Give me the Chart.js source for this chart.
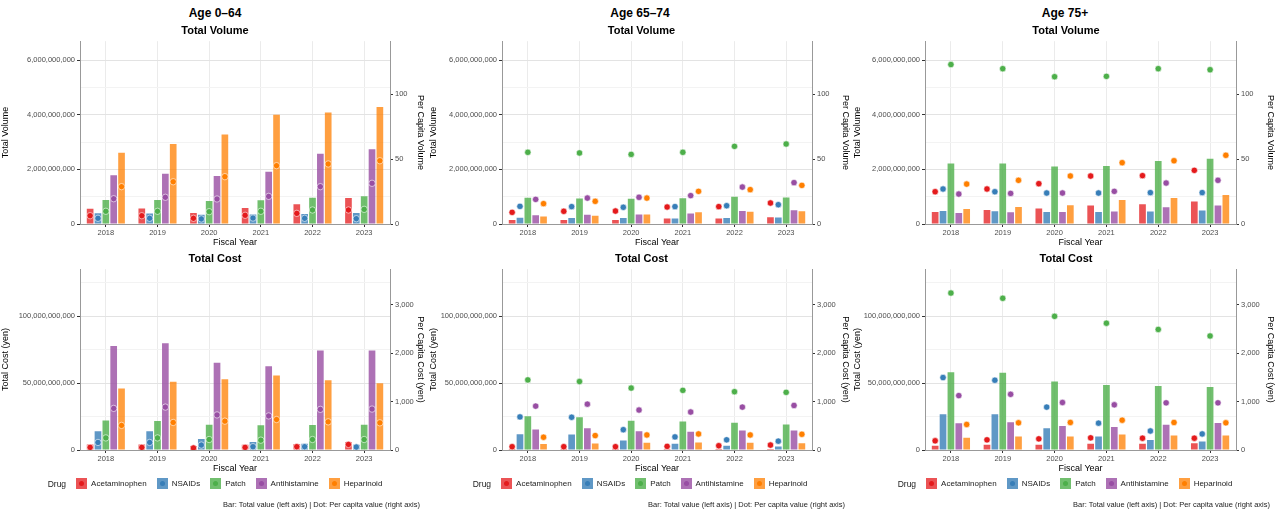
<!DOCTYPE html>
<html><head><meta charset="utf-8">
<script src="https://cdn.jsdelivr.net/npm/chart.js@4.4.1/dist/chart.umd.min.js"></script>
<style>
body{margin:0;width:1280px;height:517px;background:#fff;font-family:"Liberation Sans",Arial,sans-serif;position:relative;overflow:hidden}
.c{position:absolute}
.age{position:absolute;top:6px;font-weight:bold;font-size:12px;width:430px;text-align:center}
.leg{position:absolute;top:478px;font-size:8px;color:#222;display:flex;align-items:center;width:430px;justify-content:center}
.leg span.k{display:inline-block;width:11px;height:11px;margin:0 4px 0 10px;position:relative}
.leg span.k i{position:absolute;left:3px;top:3px;width:5px;height:5px;border-radius:50%}
.cap{position:absolute;top:500px;font-size:7.5px;color:#222;width:420px;text-align:right}
</style></head><body>
<div id="root"></div>
<script>
const years=["2018","2019","2020","2021","2022","2023"];
const drugs=["Acetaminophen","NSAIDs","Patch","Antihistamine","Heparinoid"];
const ages=["Age 0\u201364","Age 65\u201374","Age 75+"];
const volTot064=[[0.56e9,0.57e9,0.40e9,0.59e9,0.72e9,0.95e9],[0.39e9,0.38e9,0.34e9,0.35e9,0.37e9,0.40e9],[0.88e9,0.88e9,0.84e9,0.87e9,0.96e9,1.02e9],[1.78e9,1.84e9,1.76e9,1.91e9,2.57e9,2.74e9],[2.61e9,2.93e9,3.28e9,4.0e9,4.08e9,4.28e9]];
const volPc064=[[6.4,6.4,4.4,6.7,8.2,10.8],[4.4,4.4,3.9,4.6,4.4,4.1],[9.8,9.8,9.5,9.8,10.8,11.3],[19.5,20.6,19.3,21.3,28.8,31.4],[28.8,32.6,36.5,45,46.3,48.8]];
const volTot6574=[[0.15e9,0.15e9,0.15e9,0.20e9,0.20e9,0.25e9],[0.23e9,0.22e9,0.22e9,0.20e9,0.22e9,0.24e9],[0.96e9,0.93e9,0.92e9,0.94e9,1.00e9,0.97e9],[0.32e9,0.34e9,0.35e9,0.38e9,0.48e9,0.50e9],[0.27e9,0.30e9,0.35e9,0.43e9,0.45e9,0.47e9]];
const volPc6574=[[9.0,9.8,10,13.1,13.4,16.2],[13.6,13.4,12.9,13.4,14.1,14.9],[55.3,54.8,53.7,55.3,59.9,61.7],[19,20,20.6,21.9,28.5,31.9],[15.7,17.5,20,25.2,26.5,29.8]];
const volTot75=[[0.44e9,0.51e9,0.57e9,0.68e9,0.72e9,0.82e9],[0.48e9,0.47e9,0.44e9,0.44e9,0.46e9,0.49e9],[2.21e9,2.21e9,2.10e9,2.12e9,2.31e9,2.39e9],[0.40e9,0.43e9,0.44e9,0.46e9,0.61e9,0.68e9],[0.55e9,0.62e9,0.69e9,0.88e9,0.95e9,1.06e9]];
const volPc75=[[24.9,27,31.1,37,37.3,41.4],[27,24.9,23.9,23.9,24.2,24.2],[123,119.8,113.6,113.9,119.8,119],[23.1,23.6,23.9,25.2,31.6,33.7],[30.8,33.7,37,47.3,48.8,53]];
const costTot064=[[4.2e9,4.2e9,2.9e9,3.9e9,4.4e9,5.9e9],[14e9,14e9,8.3e9,5.9e9,4.7e9,3.9e9],[22e9,21.6e9,18.9e9,18.4e9,18.6e9,18.9e9],[77.7e9,79.7e9,65.2e9,62.5e9,74.3e9,74.3e9],[46e9,51e9,52.9e9,55.6e9,52e9,49.8e9]];
const costPc064=[[54,54,41,54,68,115],[156,156,102,68,68,61],[250,250,217,203,217,217],[860,887,725,704,840,846],[508,569,596,630,582,562]];
const costTot6574=[[0.7e9,0.7e9,0.7e9,0.7e9,0.7e9,0.7e9],[11.8e9,11.5e9,7.1e9,4.7e9,3.2e9,2.7e9],[25.2e9,24.5e9,21.8e9,21.3e9,20.3e9,19.1e9],[15.4e9,16.2e9,14e9,13.7e9,14.5e9,14.5e9],[4.4e9,4.9e9,5.4e9,5.6e9,5.4e9,5.1e9]];
const costPc6574=[[68,68,68,75,88,102],[684,677,420,271,210,183],[1449,1415,1280,1233,1205,1192],[907,948,826,785,887,921],[264,298,311,332,311,325]];
const costTot75=[[3.2e9,3.9e9,3.9e9,4.7e9,4.7e9,5.1e9],[26.7e9,26.7e9,16.2e9,10e9,7.4e9,6.4e9],[58.1e9,57.6e9,51.2e9,48.5e9,47.8e9,47.1e9],[19.9e9,20.8e9,17.9e9,17.2e9,18.9e9,20.1e9],[9.1e9,10e9,10e9,11.5e9,10.8e9,10.8e9]];
const costPc75=[[190,210,230,251,244,244],[1497,1442,887,555,393,332],[3244,3136,2763,2621,2492,2357],[1124,1151,982,934,975,975],[528,562,569,616,569,562]];
const volTicksL=[0,2e9,4e9,6e9], volTicksR=[0,50,100];
const costTicksL=[0,50e9,100e9], costTicksR=[0,1000,2000,3000];

const colors=["#E41A1C","#377EB8","#4DAF4A","#984EA3","#FF7F00"];
const barColors=["rgba(228,26,28,0.75)","rgba(55,126,184,0.8)","rgba(77,175,74,0.8)","rgba(152,78,163,0.8)","rgba(255,127,0,0.75)"];
const fmt=v=>Number(v).toLocaleString('en-US');
const CP=0.76,BP=0.85,slot=CP/5;
const root=document.getElementById('root');
const lefts=[0,425,850];
const cols=[{l:0,w:430,lw:80,rw:40},{l:428,w:427,lw:74,rw:43},{l:852,w:428,lw:73,rw:44}];
const T='rgba(0,0,0,0)';

function mkCanvas(col,top,h){
  const k=cols[col];
  const cv=document.createElement('canvas');cv.className='c';
  cv.style.left=k.l+'px';cv.style.top=top+'px';cv.style.width=k.w+'px';cv.style.height=h+'px';
  cv.width=k.w;cv.height=h;root.appendChild(cv);return cv;
}
function panel(col,top,h,title,ltitle,rtitle,tot,pc,lmax,lt,rmax,rt){
  const K=cols[col];
  const step=lt[1]-lt[0];
  const minor=[];for(let v=0;v<=lmax;v+=step/2)minor.push(v);
  const mk=(overlay)=>{
    const c=x=>overlay?T:x;
    const tk={color:c('#4d4d4d'),font:{size:7.5,family:'Liberation Sans'}};
    const ttl=s=>({display:true,text:s,color:c('#000'),font:{size:9,family:'Liberation Sans'}});
    return {
      x:overlay?{type:'linear',min:-0.5,max:5.5,afterBuildTicks:s=>{s.ticks=years.map((y,i)=>({value:i}))},grid:{display:false},border:{display:false},ticks:{...tk,padding:1,callback:(v,i)=>years[i]},title:{...ttl('Fiscal Year'),padding:0},afterFit:s=>{s.height=24}}
        :{type:'category',offset:true,grid:{offset:false,color:'#ebebeb',tickLength:3,tickColor:'#333'},border:{color:'#999'},ticks:{...tk,padding:1},title:{...ttl('Fiscal Year'),padding:0},afterFit:s=>{s.height=24}},
      y:{position:'left',min:0,max:lmax,afterBuildTicks:s=>{s.ticks=minor.map(v=>({value:v}))},
         ticks:{...tk,padding:2,callback:v=>lt.includes(v)?fmt(v):''},
         grid:overlay?{display:false}:{color:k=>lt.includes(k.tick.value)?'#e3e3e3':'#f3f3f3',tickLength:3,tickColor:k=>lt.includes(k.tick.value)?'#333':T},border:{display:!overlay,color:'#999'},
         title:{...ttl(ltitle),padding:{top:0,bottom:2}},afterFit:s=>{s.width=K.lw}},
      y2:{position:'right',min:0,max:rmax,afterBuildTicks:s=>{s.ticks=rt.map(v=>({value:v}))},ticks:{...tk,padding:2,callback:v=>fmt(v)},grid:{drawOnChartArea:false,tickLength:3,tickColor:c('#333')},border:{display:!overlay,color:'#999'},
         title:{...ttl(rtitle),padding:{top:4,bottom:0}},afterFit:s=>{s.width=K.rw}}
    };
  };
  const plugins=o=>({legend:{display:false},tooltip:{enabled:false},title:{display:true,text:title,color:o?T:'#000',font:{size:11,weight:'bold',family:'Liberation Sans'},padding:{top:2,bottom:4}}});
  new Chart(mkCanvas(col,top,h),{type:'bar',data:{labels:years,datasets:drugs.map((d,i)=>({label:d,data:tot[i],backgroundColor:barColors[i],yAxisID:'y',categoryPercentage:CP,barPercentage:BP}))},
    options:{responsive:false,animation:false,devicePixelRatio:1,layout:{padding:0},plugins:plugins(false),scales:mk(false)}});
  new Chart(mkCanvas(col,top,h),{type:'scatter',data:{datasets:drugs.map((d,i)=>({label:d,data:pc[i].map((v,j)=>({x:j+(i-2)*slot,y:v})),backgroundColor:colors[i],borderColor:'#fff',borderWidth:0.6,pointRadius:3.2,yAxisID:'y2'}))},
    options:{responsive:false,animation:false,devicePixelRatio:1,layout:{padding:0},plugins:plugins(true),scales:mk(true)}});
}
const vt=[volTot064,volTot6574,volTot75],vp=[volPc064,volPc6574,volPc75];
const ct=[costTot064,costTot6574,costTot75],cp=[costPc064,costPc6574,costPc75];
for(let c=0;c<3;c++){
  const a=document.createElement('div');a.className='age';a.style.left=lefts[c]+'px';a.textContent=ages[c];root.appendChild(a);
  panel(c,22,226,'Total Volume','Total Volume','Per Capita Volume',vt[c],vp[c],6.69e9,volTicksL,141,volTicksR);
  panel(c,250,224,'Total Cost','Total Cost (yen)','Per Capita Cost (yen)',ct[c],cp[c],135e9,costTicksL,3737,costTicksR);
  const l=document.createElement('div');l.className='leg';l.style.left=lefts[c]+'px';
  let h='<span style="font-size:8.5px">Drug</span>';
  drugs.forEach((d,i)=>{h+=`<span class="k" style="background:${barColors[i]}"><i style="background:${colors[i]}"></i></span>${d}`});
  l.innerHTML=h;root.appendChild(l);
  const cap=document.createElement('div');cap.className='cap';cap.style.left=lefts[c]+'px';cap.textContent='Bar: Total value (left axis) | Dot: Per capita value (right axis)';root.appendChild(cap);
}
</script></body></html>
